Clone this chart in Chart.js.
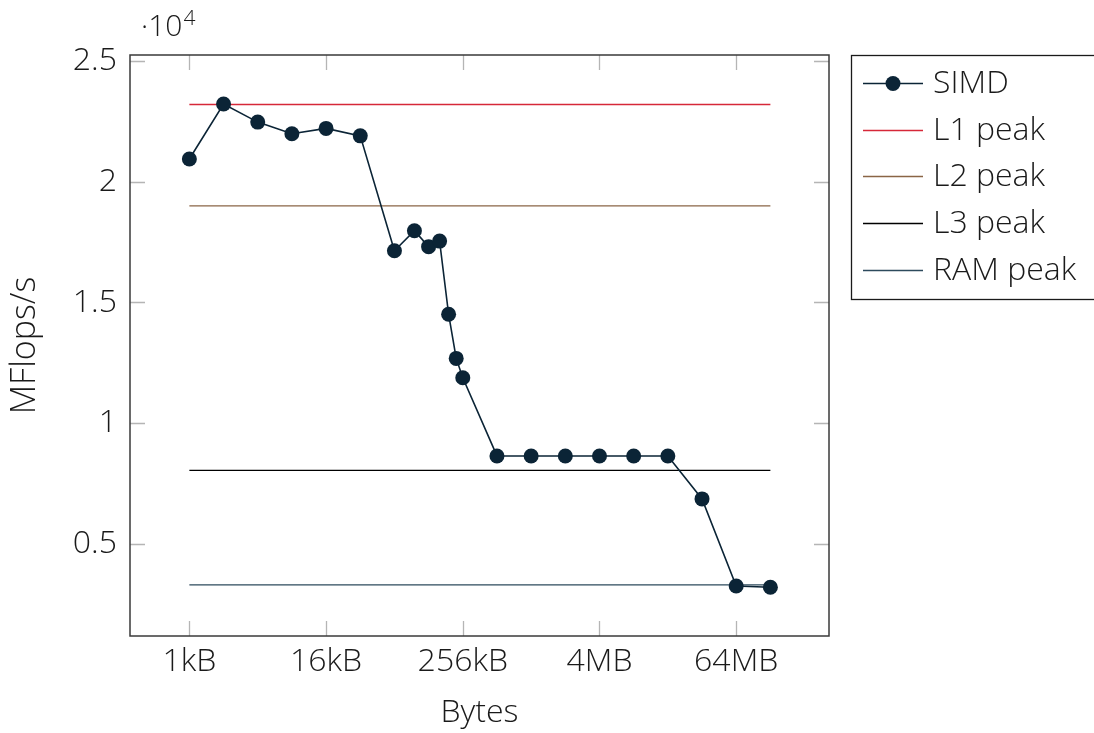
<!DOCTYPE html>
<html>
<head>
<meta charset="utf-8">
<script src="https://cdn.jsdelivr.net/npm/chart.js@4.4.0/dist/chart.umd.min.js"></script>
<style>
  html, body { margin: 0; padding: 0; background: #fff; }
</style>
</head>
<body>
<canvas id="cacheChart" width="1094" height="733"></canvas>
<script>
// Working set sizes, in kB
const sizesKB = [1, 2, 4, 8, 16, 32, 64, 96, 128, 160, 192, 224, 256, 512, 1024, 2048, 4096, 8192, 16384, 32768, 65536, 131072];
// Measured SIMD throughput, MFlops/s
const simdMflops = [20940, 23220, 22470, 21990, 22210, 21900, 17140, 17970, 17310, 17540, 14510, 12680, 11880, 8640, 8640, 8640, 8640, 8640, 8640, 6860, 3250, 3200];

// Peak levels of each memory level, MFlops/s
const l1Peak = 23200;
const l2Peak = 19000;
const l3Peak = 8040;
const ramPeak = 3300;

// Tick values and labels
const xTickValues = [1, 16, 256, 4096, 65536];
const xTickLabels = ['1kB', '16kB', '256kB', '4MB', '64MB'];
const yTickValues = [5000, 10000, 15000, 20000, 25000];
const yTickLabels = ['0.5', '1', '1.5', '2', '2.5'];

const FONT = "'Open Sans', 'DejaVu Sans', sans-serif";
const WEIGHT = 300;
const SIZE = 32;
const TEXT = '#1a1a1a';

// Helper: horizontal line spanning the measured range
const peakLine = (y) => [
  { x: sizesKB[0], y: y },
  { x: sizesKB[sizesKB.length - 1], y: y },
];

// Draws the box frame, the inward tick marks, the exponent label and the legend
const framePlugin = {
  id: 'frame',
  beforeDatasetsDraw(chart) {
    const { ctx, chartArea: a, scales } = chart;
    ctx.save();
    ctx.strokeStyle = '#b5b5b5';
    ctx.lineWidth = 1.3;
    ctx.beginPath();
    scales.x.ticks.forEach((t) => {
      const px = Math.round(scales.x.getPixelForValue(t.value)) + 0.5;
      ctx.moveTo(px, a.bottom); ctx.lineTo(px, a.bottom - 15);
      ctx.moveTo(px, a.top); ctx.lineTo(px, a.top + 15);
    });
    scales.y.ticks.forEach((t) => {
      const py = Math.round(scales.y.getPixelForValue(t.value)) + 0.5;
      ctx.moveTo(a.left, py); ctx.lineTo(a.left + 15, py);
      ctx.moveTo(a.right, py); ctx.lineTo(a.right - 15, py);
    });
    ctx.stroke();
    ctx.restore();
  },
  afterDraw(chart) {
    const { ctx, chartArea: a } = chart;
    ctx.save();
    // frame
    ctx.strokeStyle = '#3a3a3a';
    ctx.lineWidth = 1.5;
    ctx.strokeRect(a.left, a.top, a.right - a.left, a.bottom - a.top);

    // exponent label above the y axis
    ctx.fillStyle = TEXT;
    ctx.textBaseline = 'alphabetic';
    ctx.textAlign = 'left';
    ctx.font = WEIGHT + ' 30px ' + FONT;
    ctx.fillText('\u00b710', 141, 36);
    const w = ctx.measureText('\u00b710').width;
    ctx.font = WEIGHT + ' 21px ' + FONT;
    ctx.fillText('4', 141 + w + 1, 25);

    // legend box
    const lx = 851, ly = 55, rowH = 46.7;
    ctx.strokeStyle = '#1a1a1a';
    ctx.lineWidth = 1.3;
    ctx.strokeRect(lx + 0.5, ly + 0.5, 260, 244);
    chart.data.datasets.forEach((ds, i) => {
      const cy = Math.round(ly + 28 + i * rowH) + 0.5;
      ctx.strokeStyle = ds.borderColor;
      ctx.lineWidth = ds.borderWidth;
      ctx.beginPath();
      ctx.moveTo(863, cy); ctx.lineTo(923, cy);
      ctx.stroke();
      if (ds.pointRadius > 0) {
        ctx.fillStyle = ds.pointBackgroundColor;
        ctx.beginPath();
        ctx.arc(893, cy, ds.pointRadius, 0, Math.PI * 2);
        ctx.fill();
      }
      ctx.fillStyle = TEXT;
      ctx.font = WEIGHT + ' ' + SIZE + 'px ' + FONT;
      ctx.textBaseline = 'middle';
      ctx.fillText(ds.label, 933, cy);
    });
    ctx.restore();
  },
};

const ctx = document.getElementById('cacheChart');
new Chart(ctx, {
  type: 'line',
  data: {
    datasets: [
      {
        label: 'SIMD',
        data: sizesKB.map((s, i) => ({ x: s, y: simdMflops[i] })),
        borderColor: '#0b2436',
        backgroundColor: '#0b2436',
        pointBackgroundColor: '#0b2436',
        pointBorderWidth: 0,
        pointRadius: 7.5,
        borderWidth: 1.6,
        order: 0,
      },
      {
        label: 'L1 peak',
        data: peakLine(l1Peak),
        borderColor: '#d62839',
        borderWidth: 1.4,
        pointRadius: 0,
        order: 1,
      },
      {
        label: 'L2 peak',
        data: peakLine(l2Peak),
        borderColor: '#8a6546',
        borderWidth: 1.4,
        pointRadius: 0,
        order: 1,
      },
      {
        label: 'L3 peak',
        data: peakLine(l3Peak),
        borderColor: '#000000',
        borderWidth: 1.4,
        pointRadius: 0,
        order: 1,
      },
      {
        label: 'RAM peak',
        data: peakLine(ramPeak),
        borderColor: '#2d4a5d',
        borderWidth: 1.4,
        pointRadius: 0,
        order: 1,
      },
    ],
  },
  options: {
    responsive: false,
    animation: false,
    devicePixelRatio: 1,
    layout: { padding: { top: 55, right: 265, left: 0, bottom: 0 } },
    plugins: {
      legend: { display: false },
      tooltip: { enabled: false },
    },
    scales: {
      x: {
        type: 'logarithmic',
        min: 0.309,
        max: 430300,
        afterBuildTicks: (scale) => { scale.ticks = xTickValues.map((v) => ({ value: v })); },
        afterFit: (scale) => { scale.height = 97; },
        grid: { display: false, drawTicks: false },
        border: { display: false },
        ticks: {
          padding: 7,
          color: TEXT,
          font: { family: FONT, size: SIZE, weight: WEIGHT },
          maxRotation: 0,
          autoSkip: false,
          callback: (value, index) => xTickLabels[index],
        },
        title: {
          display: true,
          text: 'Bytes',
          color: TEXT,
          font: { family: FONT, size: SIZE, weight: WEIGHT },
          padding: { top: 0, bottom: 1 },
        },
      },
      y: {
        type: 'linear',
        min: 1180,
        max: 25250,
        afterBuildTicks: (scale) => { scale.ticks = yTickValues.map((v) => ({ value: v })); },
        afterFit: (scale) => { scale.width = 130; },
        grid: { display: false, drawTicks: false },
        border: { display: false },
        ticks: {
          padding: 13,
          color: TEXT,
          font: { family: FONT, size: SIZE, weight: WEIGHT },
          autoSkip: false,
          callback: (value, index) => yTickLabels[index],
        },
        title: {
          display: true,
          text: 'MFlops/s',
          color: TEXT,
          font: { family: FONT, size: SIZE + 2, weight: WEIGHT },
          padding: { top: 5, bottom: 0 },
        },
      },
    },
  },
  plugins: [framePlugin],
});
</script>
</body>
</html>
